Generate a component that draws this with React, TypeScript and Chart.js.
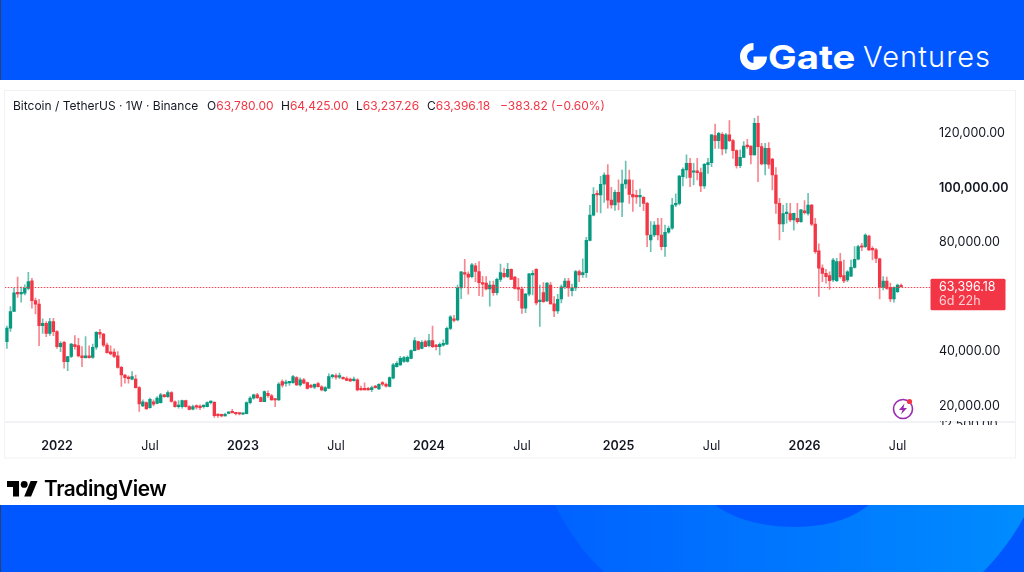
import React, { useEffect, useRef } from "react";
import { Chart, registerables } from "chart.js";

Chart.register(...registerables);

// Weekly candles, thousands of USDT
const opens = [
  43.2,48.2,54.3,61.2,60.8,61.0,62.8,65.6,58.3,57.0,
  49.1,50.0,46.3,50.6,46.9,41.4,43.0,35.9,37.8,42.2,
  41.8,38.0,37.4,38.0,37.5,41.2,46.7,46.0,42.0,39.5,
  39.4,38.0,33.8,31.0,30.0,29.5,29.5,26.4,19.7,20.9,
  19.0,21.2,20.6,20.9,23.7,23.1,24.6,21.2,19.4,19.4,
  21.6,19.4,18.5,19.7,19.6,19.4,19.4,20.9,21.0,16.4,
  16.3,16.0,16.9,17.4,17.1,16.9,16.6,16.8,20.9,22.5,
  23.7,22.7,21.25,24.3,23.4,22.1,21.85,28.6,27.9,28.1,
  28.2,30.1,27.4,29.2,28.2,27.2,26.5,27.9,26.7,25.3,
  26.2,30.4,30.8,30.2,30.0,29.7,29.5,28.9,29.2,26.1,
  26.1,26.1,25.6,26.7,25.9,28.2,27.6,26.8,29.8,34.1,
  34.7,36.0,36.0,37.1,39.95,43.25,40.8,43.25,41.8,43.6,
  41.8,41.4,42.0,42.3,48.1,51.6,51.2,63.0,68.6,68.0,
  67.1,71.1,69.0,64.9,64.7,62.6,64.0,61.2,66.1,68.3,
  67.1,69.8,66.9,63.0,62.5,55.5,60.7,67.7,69.8,57.9,
  61.3,58.2,64.0,57.1,54.5,58.9,63.4,65.5,62.0,63.0,
  69.0,67.8,68.6,80.4,89.7,97.3,97.1,101.0,104.4,95.2,
  93.4,98.0,94.4,101.1,102.6,97.3,96.7,96.4,96.2,94.0,
  80.6,82.4,86.07,82.4,78.1,83.4,84.85,93.4,94.0,103.8,
  106.25,108.7,105.4,105.9,105.27,100.4,108.2,108.94,118.85,117.0,
  119.34,113.96,119.1,117.0,113.35,107.84,110.9,115.18,115.06,111.76,
  123.37,114.8,108.45,114.2,110.29,104.4,94.0,86.44,90.2,90.2,
  87.9,88.5,87.3,91.3,90.3,93.4,86.4,76.6,70.2,68.3,
  67.5,65.9,65.6,72.6,67.5,65.9,67.3,70.5,73.5,78.4,
  78.1,82.0,77.5,76.9,73.6,63.2,65.5,63.2,58.9,61.6,63.78,
];
const highs = [
  49.0,56.1,62.8,66.9,63.4,64.1,68.7,66.5,59.2,58.8,
  51.6,50.6,51.8,51.8,47.3,43.3,43.4,37.9,42.6,45.5,
  44.5,41.4,45.1,41.7,42.4,46.9,47.8,46.3,42.7,41.7,
  40.6,39.6,34.2,31.3,30.7,32.3,31.0,26.8,21.9,21.2,
  22.5,21.9,23.1,24.3,23.9,25.2,24.9,21.5,21.6,21.8,
  21.8,19.8,20.0,20.1,20.1,20.0,21.2,21.5,21.3,16.8,
  16.7,17.0,17.4,18.4,17.2,17.0,17.1,21.2,23.1,24.0,
  24.3,23.0,25.2,25.2,23.9,22.4,28.2,29.2,29.1,28.6,
  30.9,30.4,30.0,29.8,28.4,27.6,27.8,28.3,27.1,26.8,
  31.4,31.3,31.4,31.7,30.3,30.3,29.9,30.2,29.7,26.9,
  28.1,26.5,26.9,27.2,27.9,28.6,28.0,30.3,35.3,35.9,
  37.9,37.9,38.0,40.2,44.7,43.5,43.6,43.8,45.9,48.95,
  42.3,42.8,43.9,48.6,52.8,52.9,64.0,69.0,73.5,68.9,
  72.0,72.0,72.6,67.2,67.1,65.5,65.5,66.6,71.75,70.2,
  72.0,70.0,67.2,66.5,63.4,61.0,68.3,69.3,70.1,64.0,
  64.9,64.9,65.0,59.8,60.6,64.1,66.5,66.5,64.4,69.4,
  69.5,73.6,81.5,93.3,99.8,98.7,103.9,105.2,108.2,99.9,
  98.9,102.6,106.2,109.5,106.2,102.5,98.8,99.2,96.5,94.4,
  87.3,87.3,88.5,88.5,86.0,85.7,95.85,97.45,104.3,107.0,
  111.8,110.5,108.7,110.5,106.9,108.7,110.5,119.2,123.1,120.1,
  119.95,119.7,124.35,117.5,113.6,113.6,116.65,117.5,115.1,125.2,
  126.07,116.04,116.04,116.28,110.5,107.1,95.85,93.4,94.0,94.0,
  90.4,94.0,91.8,95.0,97.7,93.6,88.5,79.1,71.4,69.8,
  68.9,73.8,73.8,75.7,73.2,69.3,73.2,78.1,78.7,79.3,
  82.8,82.4,78.1,77.5,73.9,67.1,66.9,64.7,63.4,64.4,64.425,
];
const lows = [
  40.8,47.0,54.3,59.5,57.7,60.4,62.2,55.5,53.4,41.8,
  46.3,45.1,45.5,45.4,40.8,39.6,33.5,32.6,37.4,40.5,
  37.6,34.1,37.2,37.2,37.1,40.4,44.5,41.4,39.0,38.4,
  37.4,33.5,26.8,28.0,28.0,29.2,26.2,17.6,19.4,18.5,
  18.8,19.7,20.4,20.7,22.8,22.8,21.0,19.2,18.8,18.8,
  19.2,18.2,18.2,18.5,18.3,18.8,19.3,20.4,15.4,15.4,
  15.6,15.9,16.7,17.2,16.4,16.4,16.5,16.7,20.4,22.1,
  22.3,21.2,21.2,22.8,21.8,19.4,21.7,26.5,26.9,27.2,
  27.9,27.1,26.9,27.7,25.8,26.3,26.0,26.5,25.2,24.9,
  26.0,29.8,29.5,29.7,29.6,28.9,28.6,28.7,25.2,25.4,
  25.5,25.4,24.9,26.2,25.6,27.0,26.5,26.6,29.6,33.9,
  34.5,35.6,35.7,36.9,39.8,40.2,40.6,41.4,41.3,41.0,
  40.2,38.4,41.6,42.1,47.6,50.5,50.9,59.0,63.4,60.7,
  66.6,65.3,60.1,59.8,62.2,56.3,60.2,60.4,65.3,66.6,
  66.7,66.1,62.5,58.3,53.65,53.9,60.0,60.4,56.7,48.8,
  57.6,57.9,57.0,52.4,53.6,57.5,62.7,59.8,60.0,62.0,
  65.3,66.8,66.8,80.2,89.4,90.8,90.5,94.3,92.2,92.2,
  91.4,91.6,89.1,99.5,94.0,91.0,94.0,92.8,91.3,78.1,
  76.3,81.8,80.6,76.9,74.5,83.0,84.4,92.8,93.4,100.4,
  103.2,100.14,100.75,102.6,98.3,99.5,105.0,107.5,114.2,114.2,
  111.76,112.37,116.65,110.5,106.9,107.1,110.9,114.2,108.45,111.7,
  101.96,108.09,104.4,106.86,98.9,90.35,80.6,83.6,86.7,87.3,
  84.2,86.7,87.0,90.0,89.7,85.8,75.6,59.8,65.3,64.7,
  62.4,65.3,65.3,66.5,64.9,65.3,67.1,70.2,73.2,76.6,
  77.7,76.6,73.2,72.2,58.9,62.2,62.4,57.9,57.7,61.2,63.237,
];
const closes = [
  48.2,54.3,61.2,60.8,61.2,62.8,65.3,58.3,57.0,49.1,
  50.0,46.3,50.6,46.9,41.4,42.6,35.9,37.8,42.4,41.4,
  38.0,37.4,38.0,37.4,41.2,46.7,46.0,42.0,39.2,38.7,
  37.8,33.8,31.0,30.0,29.7,30.4,26.4,20.4,21.2,18.6,
  22.1,20.3,22.5,23.7,23.1,24.6,21.3,19.4,20.0,21.6,
  19.4,18.4,19.4,19.2,19.0,19.7,20.9,21.2,16.1,16.1,
  16.0,16.6,17.2,17.1,16.8,16.7,16.9,20.9,22.5,23.7,
  22.7,21.25,24.9,23.4,21.9,21.85,27.7,27.3,28.2,28.3,
  30.4,27.4,29.2,28.0,26.1,26.5,27.6,26.7,25.5,26.4,
  30.4,30.8,30.2,30.8,29.6,29.0,28.8,29.5,25.5,25.5,
  25.5,25.5,26.4,26.4,27.6,27.6,26.9,30.05,34.7,35.3,
  37.1,37.4,37.5,39.95,43.6,40.4,43.0,41.4,43.6,41.4,
  41.4,42.3,42.6,48.1,52.4,51.0,63.0,68.9,68.0,66.9,
  71.4,69.0,64.9,64.3,62.6,64.0,61.2,66.1,68.6,67.1,
  69.8,66.1,62.8,62.5,55.5,60.7,68.1,68.3,57.5,58.5,
  57.9,64.7,57.1,54.5,58.8,63.4,65.5,63.0,63.0,69.0,
  67.7,68.6,80.4,89.7,97.3,97.1,101.0,104.4,95.2,93.4,
  98.0,94.4,101.1,102.6,97.3,96.4,96.4,96.7,94.0,82.4,
  82.4,86.07,82.4,78.1,83.4,84.85,93.4,94.0,104.05,106.5,
  108.7,103.56,105.9,105.27,100.4,108.33,108.94,119.1,117.0,119.7,
  113.96,119.1,117.0,113.35,107.84,110.9,115.06,114.8,111.76,123.37,
  114.8,108.45,114.2,108.33,104.4,94.0,86.44,90.2,90.4,87.9,
  90.3,87.3,91.6,90.6,93.4,86.4,76.3,70.2,68.3,67.1,
  65.6,73.2,72.6,67.1,65.5,68.9,70.5,73.5,78.1,77.9,
  82.4,76.9,76.9,73.8,63.2,65.5,62.8,58.9,63.2,64.0,63.396,
];

const emptyWeeks = [null, null, null, null, null, null, null, null];
const tickWeeks = [14, 40, 66, 92, 118, 144, 171, 197, 223, 249];
const tickNames = ["2022", "Jul", "2023", "Jul", "2024", "Jul", "2025", "Jul", "2026", "Jul"];
const priceTicks = [20000, 40000, 80000, 100000, 120000];
const clippedPriceTick = 12500;
const lastPrice = 63396.18;
const lastPriceText = "63,396.18";
const countdownText = "6d 22h";

const GREEN = "#089981";
const RED = "#f23645";
const FONT = "Inter, 'Noto Sans', sans-serif";
const money = (v: number) =>
  v.toLocaleString("en-US", { minimumFractionDigits: 2, maximumFractionDigits: 2 });

const overlay = {
  id: "priceOverlay",
  afterDatasetsDraw(chart: any) {
    const { ctx, chartArea, scales } = chart;
    const y = Math.round(scales.y.getPixelForValue(lastPrice)) + 0.5;
    ctx.save();
    ctx.lineWidth = 1;
    ctx.strokeStyle = "rgba(242,54,69,0.22)";
    ctx.beginPath();
    ctx.moveTo(chartArea.left, y);
    ctx.lineTo(chartArea.right, y);
    ctx.stroke();
    ctx.strokeStyle = RED;
    ctx.setLineDash([1, 2]);
    ctx.beginPath();
    ctx.moveTo(chartArea.left, y);
    ctx.lineTo(chartArea.right, y);
    ctx.stroke();
    ctx.restore();
  },
  afterDraw(chart: any) {
    const { ctx, chartArea, scales } = chart;
    const y = scales.y.getPixelForValue(lastPrice);
    const left = chartArea.right - 1;
    ctx.save();
    ctx.fillStyle = RED;
    ctx.beginPath();
    ctx.roundRect(left, y - 8, 75, 31.5, 1.5);
    ctx.fill();
    ctx.textBaseline = "middle";
    ctx.textAlign = "left";
    ctx.font = `400 12.5px ${FONT}`;
    ctx.fillStyle = "#ffffff";
    ctx.fillText(lastPriceText, left + 8.5, y + 0.5);
    ctx.fillStyle = "#ffd0d5";
    ctx.fillText(countdownText, left + 8.5, y + 14.5);
    // Lowest scale label, cut off by the time axis
    ctx.beginPath();
    ctx.rect(chartArea.right, chartArea.bottom - 1, 90, 4);
    ctx.clip();
    ctx.fillStyle = "#1e222d";
    ctx.fillText(money(clippedPriceTick), left + 9, scales.y.getPixelForValue(clippedPriceTick));
    ctx.restore();
  },
};

function App() {
  const ref = useRef<HTMLCanvasElement | null>(null);
  useEffect(() => {
    const categories = [...opens.map((_, i) => `W${i}`), ...emptyWeeks.map((_, i) => `E${i}`)];
    const toUsd = (v: number) => v * 1000;
    const isUp = opens.map((o, i) => closes[i] >= o);
    const chart = new Chart(ref.current as HTMLCanvasElement, {
      type: "bar",
      data: {
        labels: categories,
        datasets: [
          {
            label: "Body",
            data: [...opens.map((o, i) => [toUsd(o), toUsd(closes[i])]), ...emptyWeeks],
            backgroundColor: isUp.map((u) => (u ? GREEN : RED)),
            barThickness: 2.7,
            minBarLength: 1.5,
            borderWidth: 0,
            borderSkipped: false,
            grouped: false,
            order: 1,
          },
          {
            label: "Wick",
            data: [...lows.map((l, i) => [toUsd(l), toUsd(highs[i])]), ...emptyWeeks],
            backgroundColor: isUp.map((u) => (u ? "rgba(8,153,129,0.6)" : "rgba(242,54,69,0.6)")),
            barThickness: 1,
            borderWidth: 0,
            borderSkipped: false,
            grouped: false,
            order: 2,
          },
        ] as any,
      },
      options: {
        responsive: false,
        animation: false,
        devicePixelRatio: 1,
        layout: { padding: { left: 5.1, right: 7.5, top: 91, bottom: 114 } },
        plugins: { legend: { display: false }, title: { display: false }, tooltip: { enabled: false } },
        scales: {
          x: {
            type: "category",
            grid: { display: false, drawTicks: false },
            border: { display: false },
            afterFit: (s: any) => {
              s.height = 36;
              s.paddingLeft = 0;
              s.paddingRight = 0;
            },
            ticks: {
              autoSkip: false,
              maxRotation: 0,
              minRotation: 0,
              padding: 17,
              color: "#131722",
              font: (c: any) => {
                const idx = tickWeeks.indexOf(c.index);
                const isYear = idx >= 0 && tickNames[idx] !== "Jul";
                return { family: FONT, size: 12.5, weight: isYear ? 600 : 400 };
              },
              callback: (_: any, i: number) => {
                const idx = tickWeeks.indexOf(i);
                return idx >= 0 ? tickNames[idx] : "";
              },
            },
          },
          y: {
            type: "linear",
            position: "right",
            min: 13761,
            max: 135229,
            grid: { display: false, drawTicks: false },
            border: { display: false },
            afterFit: (s: any) => {
              s.width = 85;
              s.paddingTop = 0;
              s.paddingBottom = 0;
            },
            afterBuildTicks: (s: any) => { s.ticks = priceTicks.map((value) => ({ value })); },
            ticks: {
              padding: 7.5,
              labelOffset: 1,
              color: "#131722",
              align: "center",
              z: 1,
              font: (c: any) => ({ family: FONT, size: 12.5, weight: c.tick && c.tick.value === 100000 ? 600 : 400 }),
              callback: (v: any) => money(Number(v)),
            },
          },
        },
      } as any,
      plugins: [overlay],
    });
    return () => chart.destroy();
  }, []);

  const abs = (left: number, top: number): React.CSSProperties => ({
    position: "absolute",
    left,
    top,
    whiteSpace: "nowrap",
    lineHeight: "16px",
  });
  const dark = "#131722";

  return (
    <div style={{ position: "absolute", left: 0, top: 0, width: 1024, height: 572, overflow: "hidden", background: "#fff", fontFamily: FONT }}>
      <svg width="1024" height="572" style={{ position: "absolute", left: 0, top: 0 }}>
        <defs>
          <linearGradient id="wave" x1="0" x2="1" y1="0" y2="0">
            <stop offset="0" stopColor="#0062ff" />
            <stop offset="1" stopColor="#008cff" />
          </linearGradient>
        </defs>
        <rect x="0" y="0" width="1024" height="80" fill="#0057ff" />
        <rect x="0" y="505" width="1024" height="67" fill="#0057ff" />
        <path d="M555 505 C568 530 582 552 604 572 L983 572 C1000 555 1014 535 1024 517 L1024 505 Z" fill="url(#wave)" />
        <path d="M715 505 C735 520 765 527 794 527 C825 527 850 520 869 505 Z" fill="#0057ff" />
        <rect x="0" y="0" width="1" height="80" fill="#2b3f73" />
        <rect x="0" y="505" width="1" height="67" fill="#2b3f73" />
        <rect x="4.5" y="90.5" width="1011" height="367.5" fill="#fff" stroke="#f1f2f5" />
        <rect x="5" y="421" width="1011" height="2" fill="#f1f2f5" />
        {/* Gate mark */}
        <path d="M753.5 43 A13.5 13.5 0 1 0 767 56.5 L760 56.5 A6.5 6.5 0 1 1 753.5 50 Z" fill="#fff" />
        <rect x="753.5" y="56.5" width="6.5" height="6.5" fill="#fff" />
        {/* TradingView mark */}
        <g transform="translate(7 477.5) scale(0.86)" fill="#000">
          <path d="M14 22H7V11H0V4h14v18zM28 22h-8l7.5-18h8L28 22z" />
          <circle cx="20" cy="8" r="4" />
        </g>
      </svg>

      <div style={{ ...abs(768, 38), color: "#fff", fontSize: 33, fontWeight: 700, lineHeight: "38px", transform: "scaleX(1.16)", transformOrigin: "left center" }}>Gate</div>
      <div style={{ ...abs(863, 38), color: "#fff", fontSize: 29, fontWeight: 300, lineHeight: "38px", letterSpacing: 1.1 }}>Ventures</div>

      <canvas ref={ref} width={1024} height={572} style={{ position: "absolute", left: 0, top: 0, width: 1024, height: 572 }} />

      <div style={{ position: "absolute", left: 0, top: 98, fontSize: 12, color: dark }}>
        <span style={abs(13, 0)}>Bitcoin / TetherUS · 1W · Binance</span>
        <span style={abs(207, 0)}>O<span style={{ color: RED }}>63,780.00</span></span>
        <span style={abs(281, 0)}>H<span style={{ color: RED }}>64,425.00</span></span>
        <span style={abs(356, 0)}>L<span style={{ color: RED }}>63,237.26</span></span>
        <span style={abs(427, 0)}>C<span style={{ color: RED }}>63,396.18</span></span>
        <span style={{ ...abs(500, 0), color: RED }}>−383.82 (−0.60%)</span>
      </div>

      <svg width="26" height="26" viewBox="0 0 26 26" style={{ position: "absolute", left: 890, top: 396 }}>
        <circle cx="13" cy="13" r="9.5" fill="none" stroke="#9c27b0" strokeWidth="1.6" />
        <path d="M14.5 7.5 L9 14 H12.5 L11 18.5 L17 12 H13.5 Z" fill="#9c27b0" />
        <circle cx="19.5" cy="5.5" r="2.6" fill="#f23645" />
      </svg>

      <div style={{ ...abs(44, 477), color: "#000", fontSize: 20.8, fontWeight: 600, lineHeight: "24px", letterSpacing: -0.4 }}>TradingView</div>
    </div>
  );
}

export default App;
